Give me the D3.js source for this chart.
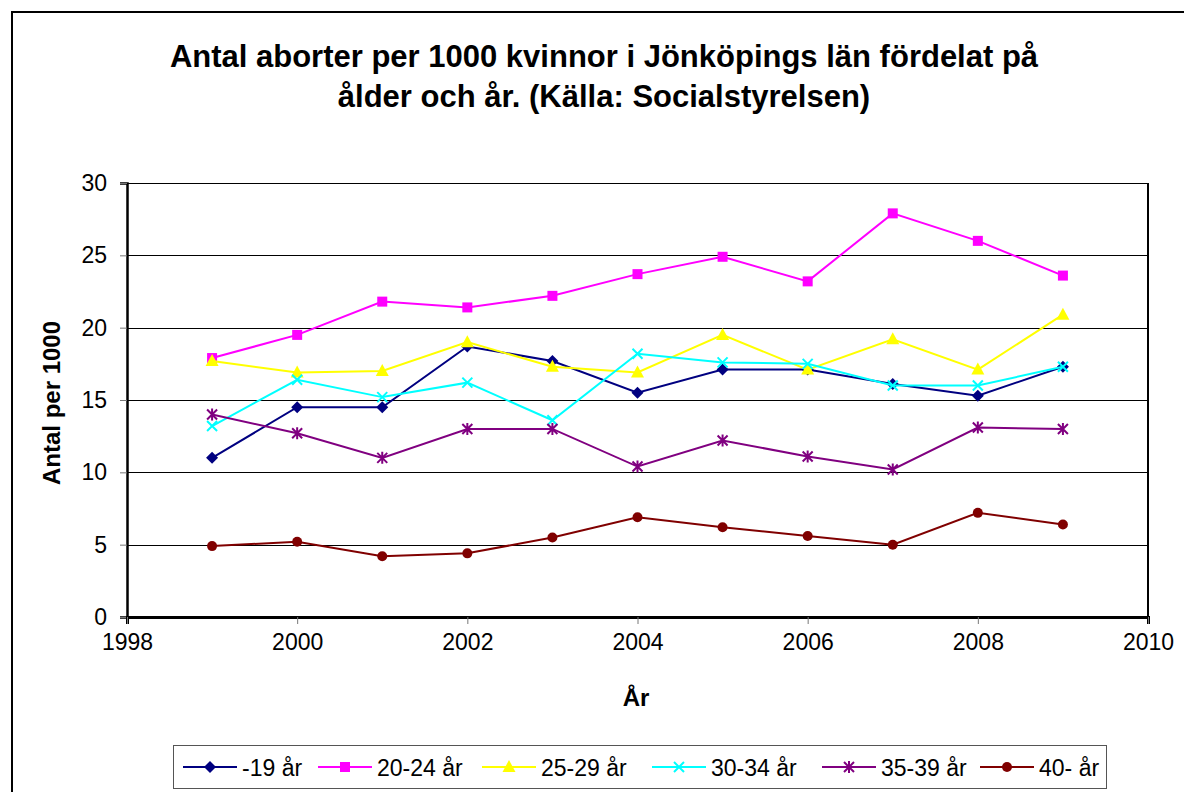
<!DOCTYPE html>
<html>
<head>
<meta charset="utf-8">
<script src="https://cdn.jsdelivr.net/npm/d3@7"></script>
<style>
  html, body { margin: 0; padding: 0; background: #fff; }
  svg { display: block; font-family: "Liberation Sans", Arial, sans-serif; }
</style>
</head>
<body>
<div id="chart"></div>
<script>
// data
const years = [1999, 2000, 2001, 2002, 2003, 2004, 2005, 2006, 2007, 2008, 2009];
const seriesNames = ['-19 år', '20-24 år', '25-29 år', '30-34 år', '35-39 år', '40- år'];
const under19 = [11.0, 14.5, 14.5, 18.7, 17.7, 15.5, 17.1, 17.1, 16.1, 15.3, 17.3];
const age20to24 = [17.9, 19.5, 21.8, 21.4, 22.2, 23.7, 24.9, 23.2, 27.9, 26.0, 23.6];
const age25to29 = [17.7, 16.9, 17.0, 19.0, 17.3, 16.9, 19.5, 17.1, 19.2, 17.1, 20.9];
const age30to34 = [13.2, 16.4, 15.2, 16.2, 13.6, 18.2, 17.6, 17.5, 16.0, 16.0, 17.3];
const age35to39 = [14.0, 12.7, 11.0, 13.0, 13.0, 10.4, 12.2, 11.1, 10.2, 13.1, 13.0];
const age40plus = [4.9, 5.2, 4.2, 4.4, 5.5, 6.9, 6.2, 5.6, 5.0, 7.2, 6.4];
const xTicks = [1998, 2000, 2002, 2004, 2006, 2008, 2010];
const yTicks = [0, 5, 10, 15, 20, 25, 30];

const seriesValues = [under19, age20to24, age25to29, age30to34, age35to39, age40plus];
const colors = ['#000080', '#ff00ff', '#ffff00', '#00ffff', '#800080', '#800000'];
const markers = ['diamond', 'square', 'triangle', 'x', 'star', 'circle'];

const width = 1184;
const height = 792;
const margin = { left: 127, right: 1148, top: 183, bottom: 617 };

const svg = d3.select('#chart')
  .append('svg')
  .attr('width', width)
  .attr('height', height);

// chart frame
svg.append('rect')
  .attr('x', 12).attr('y', 12)
  .attr('width', 1200).attr('height', 800)
  .attr('fill', '#fff')
  .attr('stroke', '#000')
  .attr('stroke-width', 2);

const x = d3.scaleLinear().domain([1998, 2010]).range([margin.left, margin.right]);
const y = d3.scaleLinear().domain([0, 30]).range([margin.bottom, margin.top]);

// title
const title = svg.append('text')
  .attr('text-anchor', 'middle')
  .attr('font-size', 31)
  .attr('font-weight', 'bold')
  .attr('fill', '#000');
title.append('tspan').attr('x', 604).attr('y', 67)
  .text('Antal aborter per 1000 kvinnor i Jönköpings län fördelat på');
title.append('tspan').attr('x', 604).attr('y', 107)
  .text('ålder och år. (Källa: Socialstyrelsen)');

// gridlines
svg.append('g')
  .selectAll('line')
  .data(yTicks.filter(d => d > 0))
  .join('line')
  .attr('x1', margin.left).attr('x2', margin.right)
  .attr('y1', d => Math.round(y(d)) + 0.5).attr('y2', d => Math.round(y(d)) + 0.5)
  .attr('stroke', '#000')
  .attr('stroke-width', 1);

// plot border (right side)
svg.append('line')
  .attr('x1', margin.right).attr('x2', margin.right)
  .attr('y1', margin.top).attr('y2', margin.bottom)
  .attr('stroke', '#000').attr('stroke-width', 2);

// axes
const yAxis = d3.axisLeft(y).tickValues(yTicks).tickSize(7).tickPadding(13);
const gy = svg.append('g')
  .attr('transform', `translate(${margin.left},0)`)
  .call(yAxis);
gy.select('.domain').attr('stroke', '#000').attr('stroke-width', 2.5);
gy.selectAll('.tick line').attr('stroke', '#777');
gy.selectAll('.tick text')
  .attr('font-family', '"Liberation Sans", Arial, sans-serif')
  .attr('font-size', 23)
  .attr('fill', '#000');

const xAxis = d3.axisBottom(x).tickValues(xTicks).tickFormat(d3.format('d')).tickSize(7).tickPadding(10);
const gx = svg.append('g')
  .attr('transform', `translate(0,${margin.bottom})`)
  .call(xAxis);
gx.select('.domain').attr('stroke', '#000').attr('stroke-width', 3);
gx.selectAll('.tick line').attr('stroke', '#777');
gx.selectAll('.tick text')
  .attr('font-family', '"Liberation Sans", Arial, sans-serif')
  .attr('font-size', 23)
  .attr('fill', '#000');

// axis titles
svg.append('text')
  .attr('transform', 'translate(60,403) rotate(-90)')
  .attr('text-anchor', 'middle')
  .attr('font-size', 24)
  .attr('font-weight', 'bold')
  .text('Antal per 1000');

svg.append('text')
  .attr('x', 636).attr('y', 706)
  .attr('text-anchor', 'middle')
  .attr('font-size', 24)
  .attr('font-weight', 'bold')
  .text('År');

// marker shapes
function drawMarker(g, type, color) {
  if (type === 'diamond') {
    g.append('path').attr('d', 'M0,-6L6,0L0,6L-6,0Z').attr('fill', color);
  } else if (type === 'square') {
    g.append('rect').attr('x', -5).attr('y', -5).attr('width', 10).attr('height', 10).attr('fill', color);
  } else if (type === 'triangle') {
    g.append('path').attr('d', 'M0,-7L6.5,5L-6.5,5Z').attr('fill', color);
  } else if (type === 'x') {
    g.append('path').attr('d', 'M-5,-5L5,5M-5,5L5,-5').attr('stroke', color).attr('stroke-width', 2).attr('fill', 'none');
  } else if (type === 'star') {
    g.append('path').attr('d', 'M-5,-5L5,5M-5,5L5,-5M0,-6L0,6').attr('stroke', color).attr('stroke-width', 2).attr('fill', 'none');
  } else if (type === 'circle') {
    g.append('circle').attr('r', 5).attr('fill', color);
  }
}

const line = d3.line()
  .x((d, i) => x(years[i]))
  .y(d => y(d));

seriesValues.forEach((vals, si) => {
  const g = svg.append('g');
  g.append('path')
    .datum(vals)
    .attr('d', line)
    .attr('fill', 'none')
    .attr('stroke', colors[si])
    .attr('stroke-width', 2);
  g.selectAll('g.m')
    .data(vals)
    .join('g')
    .attr('class', 'm')
    .attr('transform', (d, i) => `translate(${x(years[i])},${y(d)})`)
    .each(function () { drawMarker(d3.select(this), markers[si], colors[si]); });
});

// legend
svg.append('rect')
  .attr('x', 173.5).attr('y', 745.5)
  .attr('width', 933).attr('height', 43)
  .attr('fill', '#fff')
  .attr('stroke', '#555')
  .attr('stroke-width', 1);

const legendX = [183, 318, 482, 652, 822, 980];
seriesNames.forEach((name, si) => {
  const lg = svg.append('g').attr('transform', `translate(${legendX[si]},767)`);
  lg.append('line')
    .attr('x1', 0).attr('x2', 54)
    .attr('stroke', colors[si]).attr('stroke-width', 2);
  const mg = lg.append('g').attr('transform', 'translate(27,0)');
  drawMarker(mg, markers[si], colors[si]);
  lg.append('text')
    .attr('x', 59).attr('y', 9)
    .attr('font-size', 23)
    .text(name);
});
</script>
</body>
</html>
